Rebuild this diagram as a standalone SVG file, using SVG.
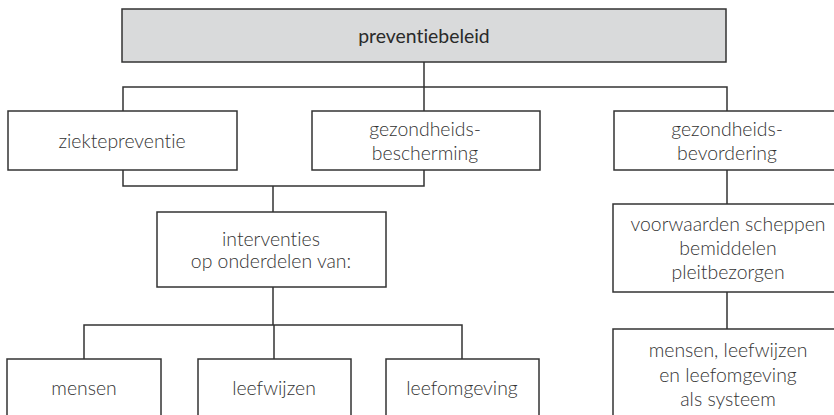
<svg xmlns="http://www.w3.org/2000/svg" width="834" height="415" viewBox="0 0 834 415">
  <style>
    .box { fill: #ffffff; stroke: #333333; stroke-width: 1.5; }
    .head { fill: #d9dadb; stroke: #333333; stroke-width: 1.5; }
    .lbl { font-family: Lato, "Open Sans", sans-serif; font-weight: 300; font-size: 19.4px; fill: #333333; text-anchor: middle; font-variant-ligatures: none; }
    .lblhead { font-family: Lato, "Open Sans", sans-serif; font-weight: 400; font-size: 19.4px; fill: #2a2a2a; text-anchor: middle; font-variant-ligatures: none; }
    .wire { fill: none; stroke: #333333; stroke-width: 1.5; }
  </style>
  <rect width="834" height="415" fill="#ffffff"/>

  <g id="connectors">
    <path class="wire" d="M424,62 V87 M123,111 V87 H727 V111 M424,87 V111"/>
    <path class="wire" d="M123,170 V186 H424 V170 M273,186 V212"/>
    <path class="wire" d="M273,287 V325 M84,359 V325 H462 V359 M274,325 V359"/>
    <path class="wire" d="M727,170 V204 M727,292 V329"/>
  </g>

  <g id="preventiebeleid">
    <rect class="head" x="122" y="9" width="604" height="53"/>
    <text class="lblhead" x="424" y="43">preventiebeleid</text>
  </g>

  <g id="ziektepreventie">
    <rect class="box" x="8" y="111" width="229" height="59"/>
    <text class="lbl" x="122" y="148">ziektepreventie</text>
  </g>

  <g id="gezondheidsbescherming">
    <rect class="box" x="312" y="111" width="228" height="59"/>
    <text class="lbl" x="425" y="136">gezondheids-</text>
    <text class="lbl" x="425" y="160">bescherming</text>
  </g>

  <g id="gezondheidsbevordering">
    <rect class="box" x="614" y="111" width="230" height="59"/>
    <text class="lbl" x="727" y="136">gezondheids-</text>
    <text class="lbl" x="727" y="160">bevordering</text>
  </g>

  <g id="interventies">
    <rect class="box" x="157" y="212" width="229" height="75"/>
    <text class="lbl" x="271" y="246">interventies</text>
    <text class="lbl" x="271" y="268">op onderdelen van:</text>
  </g>

  <g id="voorwaarden">
    <rect class="box" x="613" y="204" width="230" height="88"/>
    <text class="lbl" x="728" y="231">voorwaarden scheppen</text>
    <text class="lbl" x="728" y="255">bemiddelen</text>
    <text class="lbl" x="728" y="279">pleitbezorgen</text>
  </g>

  <g id="mensen">
    <rect class="box" x="7" y="359" width="154" height="70"/>
    <text class="lbl" x="84" y="395">mensen</text>
  </g>

  <g id="leefwijzen">
    <rect class="box" x="198" y="359" width="153" height="70"/>
    <text class="lbl" x="274" y="395">leefwijzen</text>
  </g>

  <g id="leefomgeving">
    <rect class="box" x="386" y="359" width="153" height="70"/>
    <text class="lbl" x="462" y="395">leefomgeving</text>
  </g>

  <g id="systeem">
    <rect class="box" x="613" y="329" width="230" height="100"/>
    <text class="lbl" x="728" y="357">mensen, leefwijzen</text>
    <text class="lbl" x="728" y="382">en leefomgeving</text>
    <text class="lbl" x="728" y="406">als systeem</text>
  </g>
</svg>
